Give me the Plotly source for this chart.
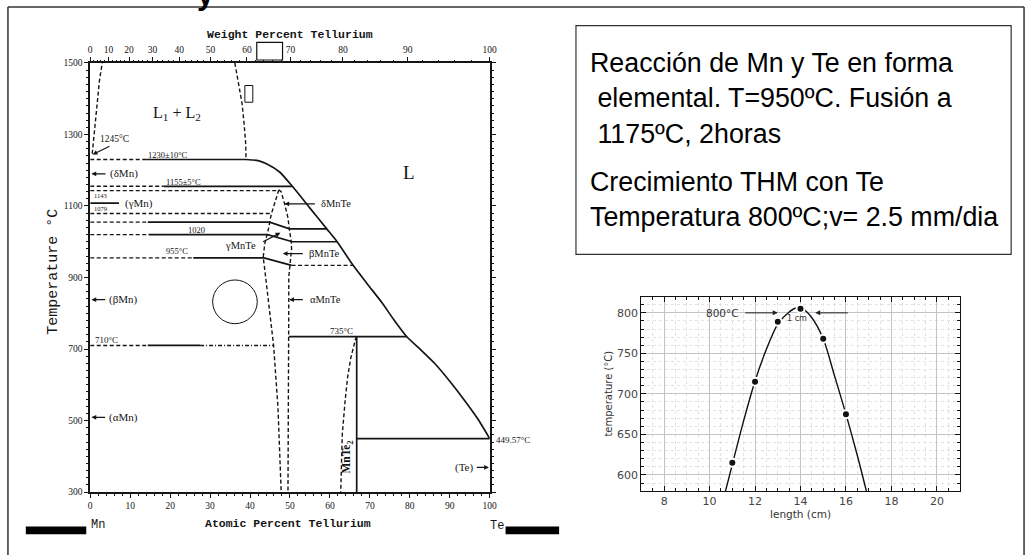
import plotly.graph_objects as go

W, H = 1036, 557
INK = '#151515'
SERIF = 'Liberation Serif'
MONO = 'Liberation Mono'
SANS = 'Liberation Sans'
DSANS = 'DejaVu Sans'

# ---------------- Mn-Te phase diagram data (atomic % Te, temperature degC) -------------
at_ticks = [0, 10, 20, 30, 40, 50, 60, 70, 80, 90, 100]
wt_ticks = [0, 10, 20, 30, 40, 50, 60, 70, 80, 90, 100]
wt_minor = [w for w in range(0, 101, 2) if w % 10 != 0]
temp_ticks = [300, 500, 700, 900, 1100, 1300, 1500]
M_MN, M_TE = 54.938, 127.60

misc_left_at = [0.5, 1.5, 2.3, 3.0]
misc_left_T = [1246, 1360, 1450, 1500]
misc_right_at = [36.2, 37.1, 38.0, 38.5, 38.9, 39.0]
misc_right_T = [1500, 1442, 1387, 1332, 1277, 1230]

liq_at = [39.0, 42.0, 44.1, 47.4, 50.6, 55.0, 59.2, 61.8, 65.8, 69.5, 73.0, 76.0,
          79.2, 83.0, 86.3, 90.0, 93.8, 97.0, 100.0]
liq_T = [1230, 1227, 1218, 1195, 1155, 1094, 1036, 1000, 934, 880, 830, 782,
         735, 695, 659, 610, 555, 505, 449.57]

mnte_left_at = [47.2, 46.2, 45.3, 44.9, 44.5, 43.7, 43.3, 43.7, 44.9, 45.9, 47.0, 47.8]
mnte_left_T = [1145, 1108, 1076, 1053, 1030, 995, 957, 921, 803, 710, 536, 300]
mnte_right_at = [47.2, 47.8, 48.6, 49.5, 49.9, 50.3, 50.4, 50.0, 49.7, 49.7, 49.6, 49.5]
mnte_right_T = [1145, 1140, 1108, 1067, 1030, 1003, 980, 932, 902, 830, 555, 300]

mnte2_left_at = [66.7, 66.4, 65.2, 64.4, 63.8, 63.1, 62.7]
mnte2_left_T = [735, 728, 674, 619, 555, 463, 300]
mnte2_at = [66.7, 66.7]
mnte2_T = [300, 735]

# isotherms: (x-points, T-points) pieces
iso_1230_dash = ([0, 14], [1230, 1230])
iso_1230_solid = ([14, 39], [1230, 1230])
iso_1155_dash = ([0, 18.4], [1155, 1155])
iso_1155_solid = ([18.4, 50.6], [1155, 1155])
iso_1143_dash = ([0, 47.2], [1143, 1143])
iso_gmn_solid = ([0, 7.2], [1108, 1108])
iso_1079_dash = ([0, 45.5], [1079, 1079])
iso_1055_dash = ([0, 14.4], [1055, 1055])
iso_1055_solid = ([14.4, 44.9, 49.9, 59.2], [1055, 1055, 1036, 1036])
iso_1020_dash = ([0, 14.6], [1020, 1020])
iso_1020_solid = ([14.6, 44.4, 50.6, 61.8], [1020, 1020, 1000, 1000])
iso_955_dash = ([0, 25.8], [955, 955])
iso_955_solid = ([25.8, 43.5, 50.4], [955, 955, 934])
iso_934_dash = ([50.4, 65.8], [934, 934])
iso_710_dash = ([0, 14.4], [710, 710])
iso_710_solid = ([14.4, 27.5], [710, 710])
iso_710_dashdot = ([27.5, 45.9], [710, 710])
iso_735_solid = ([49.7, 79.2], [735, 735])
iso_449_solid = ([66.7, 100], [449.57, 449.57])

# ---------------- temperature profile data ----------------
len_cm = [11, 12, 13, 14, 15, 16]
temp_c = [615, 715, 789, 805, 768, 675]
fit_x = [10.7, 11.0, 11.5, 12.0, 12.5, 13.0, 13.5, 13.8, 14.1, 14.5, 15.0, 15.5, 16.0, 16.5, 16.9]
fit_y = [580, 613, 667, 716, 755, 786, 801, 806, 805, 794, 768, 722, 675, 624, 580]
len_ticks = [8, 10, 12, 14, 16, 18, 20]
tprof_ticks = [600, 650, 700, 750, 800]

box_lines = ["Reacción de Mn y Te en forma",
             " elemental. T=950ºC. Fusión a",
             " 1175ºC, 2horas",
             "Crecimiento THM con Te",
             "Temperatura 800ºC;v= 2.5 mm/dia"]


def px(x):
    return x / W


def py(y):
    return 1 - y / H


def wt_to_at(w):
    a = w / M_TE
    b = (100 - w) / M_MN
    return 100 * a / (a + b)


fig = go.Figure()


def seg(piece, dash='solid', width=1.6, xs=None, ys=None):
    if piece is not None:
        xs, ys = piece
    fig.add_trace(go.Scatter(x=xs, y=ys, mode='lines', xaxis='x', yaxis='y',
                             line=dict(color=INK, width=width, dash=dash),
                             showlegend=False, hoverinfo='skip'))


DASH = '4px,2.5px'
seg(None, DASH, 1.4, misc_left_at, misc_left_T)
seg(None, DASH, 1.4, misc_right_at, misc_right_T)
fig.add_trace(go.Scatter(x=liq_at, y=liq_T, mode='lines', xaxis='x', yaxis='y',
                         line=dict(color=INK, width=1.7, shape='spline', smoothing=0.6),
                         showlegend=False, hoverinfo='skip'))
seg(None, DASH, 1.4, mnte_left_at, mnte_left_T)
seg(None, DASH, 1.4, mnte_right_at, mnte_right_T)
seg(None, DASH, 1.4, mnte2_left_at, mnte2_left_T)
seg(None, 'solid', 1.7, mnte2_at, mnte2_T)
for p in [iso_1230_dash, iso_1155_dash, iso_1143_dash, iso_1079_dash, iso_1055_dash,
          iso_1020_dash, iso_955_dash, iso_934_dash, iso_710_dash]:
    seg(p, DASH, 1.4)
for p in [iso_1230_solid, iso_1155_solid, iso_gmn_solid, iso_1055_solid, iso_1020_solid,
          iso_955_solid, iso_710_solid, iso_735_solid, iso_449_solid]:
    seg(p, 'solid', 1.7)
seg(iso_710_dashdot, '4px,2px,1px,2px', 1.4)

# invisible traces to activate top axes
fig.add_trace(go.Scatter(x=[0, 100], y=[300, 300], mode='lines', xaxis='x2', yaxis='y',
                         line=dict(width=0), showlegend=False, hoverinfo='skip'))
fig.add_trace(go.Scatter(x=[0, 100], y=[300, 300], mode='lines', xaxis='x3', yaxis='y',
                         line=dict(width=0), showlegend=False, hoverinfo='skip'))

# temperature profile
fig.add_trace(go.Scatter(x=fit_x, y=fit_y, mode='lines', xaxis='x4', yaxis='y2',
                         line=dict(color='#111', width=1.4, shape='spline', smoothing=0.8),
                         showlegend=False, hoverinfo='skip'))
fig.add_trace(go.Scatter(x=len_cm, y=temp_c, mode='markers', xaxis='x4', yaxis='y2',
                         marker=dict(color='#111', size=8, line=dict(color='white', width=2)),
                         showlegend=False, hoverinfo='skip'))

ann = []


def label(text, x, y, size=10, xanchor='center', yanchor='middle', family=SERIF,
          xref='x', yref='y', angle=0, color=INK):
    ann.append(dict(text=text, x=x, y=y, xref=xref, yref=yref, xanchor=xanchor,
                    yanchor=yanchor, showarrow=False, textangle=angle,
                    font=dict(family=family, size=size, color=color)))


def arrow(x0, y0, x1, y1, xref='x', yref='y', color=INK, width=1.2, size=0.8):
    ann.append(dict(text='', x=x1, y=y1, ax=x0, ay=y0, xref=xref, yref=yref,
                    axref=xref, ayref=yref, showarrow=True, arrowhead=2,
                    arrowsize=size, arrowwidth=width, arrowcolor=color, standoff=0,
                    startstandoff=0))


# phase diagram labels
label('L<sub>1</sub> + L<sub>2</sub>', 21.6, 1360, 16)
label('L', 79.7, 1195, 19)
label('1245°C', 2.0, 1286, 9.5, xanchor='left')
arrow(5.2, 1269, 0.6, 1244)
label('1230±10°C', 19.4, 1243, 8.5)
label('(δMn)', 4.4, 1190, 11, xanchor='left')
arrow(4.2, 1190, 0.3, 1190)
label('1155±5°C', 23.3, 1166, 8.5)
label('1143', 2.6, 1129, 6.5)
label('1079', 2.6, 1094, 6.5)
label('(γMn)', 8.1, 1108, 11, xanchor='left')
label('1020', 26.6, 1033, 8.5)
label('955°C', 21.8, 973, 8.5)
label('δMnTe', 57.2, 1106, 10.5, xanchor='left')
arrow(56.6, 1106, 48.6, 1106)
label('γMnTe', 41.9, 989, 10.5, xanchor='right')
arrow(42.9, 998, 47.6, 1025)
label('βMnTe', 54.3, 967, 10.5, xanchor='left')
arrow(53.6, 967, 48.2, 967)
label('(βMn)', 4.3, 838, 11, xanchor='left')
arrow(4.1, 838, 0.3, 838)
label('αMnTe', 54.6, 838, 10.5, xanchor='left')
arrow(53.6, 838, 49.8, 838)
label('710°C', 0.6, 726, 9, xanchor='left')
label('735°C', 62.8, 750, 9)
label('(αMn)', 4.3, 509, 11, xanchor='left')
arrow(4.1, 509, 0.3, 509)
label('<b>MnTe<sub>2</sub></b>', 64.4, 398, 11.5, angle=-90)
label('(Te)', 96.2, 369, 11, xanchor='right')
arrow(96.4, 369, 99.8, 369)
label('449.57°C', px(496), py(443), 9, xanchor='left', xref='paper', yref='paper')

# axis titles of the phase diagram
label('<b>Weight Percent Tellurium</b>', px(291), py(30), 11.5, family=MONO,
      xref='paper', yref='paper')
label('<b>Atomic Percent Tellurium</b>', px(289), py(528), 11.5, family=MONO,
      xref='paper', yref='paper')
label('Temperature °C', px(52), py(272), 15, family=MONO, xref='paper', yref='paper',
      angle=-90)
label('Mn', px(97), py(529), 12, family=MONO, xref='paper', yref='paper')
label('Te', px(499), py(531), 12, family=MONO, xref='paper', yref='paper')

# cut-off title glyph at the very top (only its descender is inside the page)
label('<b>y</b>', px(205), py(8), 30, family=SANS, xref='paper', yref='paper',
      yanchor='bottom', color='#000')

# text box
box_y = [59, 95, 131, 180, 216]
for t, yy in zip(box_lines, box_y):
    label(t, px(591), py(yy), 26.8, xanchor='left', family=SANS, xref='paper',
          yref='paper', color='#000')

# small chart annotations
label('800°C', 11.38, 800, 10.5, xanchor='right', family=DSANS, xref='x4', yref='y2',
      color='#333')
label('1 cm', 13.85, 793, 8, family=DSANS, xref='x4', yref='y2', color='#333')
arrow(11.5, 800, 13.0, 800, xref='x4', yref='y2', color='#222', width=1, size=1)
arrow(16.15, 800, 14.65, 800, xref='x4', yref='y2', color='#222', width=1, size=1)
label('temperature (°C)', px(612), py(396), 10, family=DSANS, xref='paper',
      yref='paper', angle=-90, color='#333')
label('length (cm)', px(805), py(518), 10.5, family=DSANS, xref='paper', yref='paper',
      color='#333')

shapes = []
frame = dict(color='#333', width=1.5)
shapes.append(dict(type='line', xref='paper', yref='paper', x0=px(6), x1=px(1031),
                   y0=py(2), y1=py(2), line=frame))
shapes.append(dict(type='line', xref='paper', yref='paper', x0=px(6), x1=px(6),
                   y0=py(2), y1=py(560), line=frame))
shapes.append(dict(type='line', xref='paper', yref='paper', x0=px(1031), x1=px(1031),
                   y0=py(2), y1=py(560), line=frame))
# text box
shapes.append(dict(type='rect', xref='paper', yref='paper', x0=px(579), x1=px(1018),
                   y0=py(254), y1=py(21), line=dict(color='#333', width=1.2)))
# overlay marks on the diagram
shapes.append(dict(type='rect', xref='paper', yref='paper', x0=px(257), x1=px(283),
                   y0=py(56), y1=py(38), fillcolor='white', line=dict(color='#111', width=1.2)))
shapes.append(dict(type='rect', xref='paper', yref='paper', x0=px(245), x1=px(253),
                   y0=py(99), y1=py(82), fillcolor='white', line=dict(color='#111', width=1)))
shapes.append(dict(type='circle', xref='paper', yref='paper', x0=px(212.5), x1=px(257.5),
                   y0=py(324.5), y1=py(280), line=dict(color='#111', width=1)))
shapes.append(dict(type='rect', xref='paper', yref='paper', x0=px(24), x1=px(85),
                   y0=py(539), y1=py(531), fillcolor='black', line=dict(width=0)))
shapes.append(dict(type='rect', xref='paper', yref='paper', x0=px(508), x1=px(562),
                   y0=py(539), y1=py(531), fillcolor='black', line=dict(width=0)))

tickfont = dict(family=SERIF, size=9.5, color=INK)
fig.update_layout(
    width=W, height=H, margin=dict(l=0, r=0, t=0, b=0),
    paper_bgcolor='white', plot_bgcolor='white', showlegend=False,
    annotations=ann, shapes=shapes,
    xaxis=dict(domain=[px(89), px(492)], range=[0, 100], anchor='y',
               tickvals=at_ticks, ticktext=[str(v) for v in at_ticks], ticks='outside',
               ticklen=4, tickcolor=INK, tickwidth=1.2, showline=True, linecolor=INK,
               linewidth=1.6, mirror=False, showgrid=False, zeroline=False,
               tickfont=tickfont,
               minor=dict(ticks='outside', ticklen=2, dtick=2, tickcolor=INK,
                          tickwidth=1, showgrid=False)),
    xaxis2=dict(overlaying='x', anchor='y', side='top', range=[0, 100],
                tickvals=[wt_to_at(w) for w in wt_ticks], ticktext=[str(w) for w in wt_ticks],
                ticks='outside', ticklen=4, tickcolor=INK, tickwidth=1.2, showline=True,
                linecolor=INK, linewidth=1.6, showgrid=False, zeroline=False,
                tickfont=tickfont),
    xaxis3=dict(overlaying='x', anchor='y', side='top', range=[0, 100],
                tickvals=[wt_to_at(w) for w in wt_minor], ticks='outside', ticklen=2,
                tickcolor=INK, tickwidth=1, showticklabels=False, showline=False,
                showgrid=False, zeroline=False),
    yaxis=dict(domain=[py(496), py(59)], range=[300, 1500], anchor='x',
               tickvals=temp_ticks, ticks='outside', ticklen=4, tickcolor=INK, tickwidth=1.2,
               showline=True, linecolor=INK, linewidth=1.6, mirror='ticks',
               showgrid=False, zeroline=False, tickfont=tickfont,
               minor=dict(ticks='outside', ticklen=2, dtick=20, tickcolor=INK,
                          tickwidth=1, showgrid=False)),
    xaxis4=dict(domain=[px(645), px(966)], range=[7, 21], anchor='y2',
                tickvals=len_ticks, ticks='inside', ticklen=5, tickcolor='#111',
                showline=True, linecolor='#111', linewidth=1.2, mirror='allticks',
                showgrid=True, gridcolor='#c4c4c4', gridwidth=1, zeroline=False,
                tickfont=dict(family=DSANS, size=11, color='#444'),
                minor=dict(ticks='inside', ticklen=3, dtick=0.5, tickcolor='#111',
                           showgrid=True, gridcolor='#e2e2e2', griddash='dot')),
    yaxis2=dict(domain=[py(495), py(297)], range=[580, 820], anchor='x4',
                tickvals=tprof_ticks, ticks='inside', ticklen=5, tickcolor='#111',
                showline=True, linecolor='#111', linewidth=1.2, mirror='allticks',
                showgrid=True, gridcolor='#c4c4c4', gridwidth=1, zeroline=False,
                tickfont=dict(family=DSANS, size=11, color='#444'),
                minor=dict(ticks='inside', ticklen=3, dtick=10, tickcolor='#111',
                           showgrid=True, gridcolor='#e2e2e2', griddash='dot')),
)

fig.write_html('out.html')
